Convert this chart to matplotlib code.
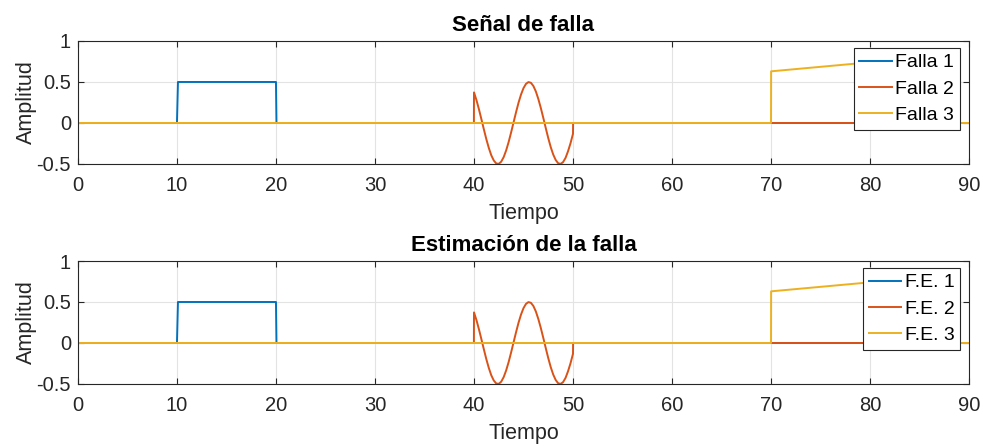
import numpy as np
import matplotlib
matplotlib.use("Agg")
import matplotlib.pyplot as plt

plt.rcParams['font.family'] = ['Liberation Sans', 'DejaVu Sans']

# fault signals (time breakpoints and amplitudes)
t_f1 = [0, 10, 10.1, 20, 20.05, 90]
y_f1 = [0, 0, 0.5, 0.5, 0, 0]

# fault 2: oscillation between t=40 and t=50
t_osc = np.arange(40, 50.01, 0.25)
y_osc = [0.373, 0.279, 0.167, 0.045, -0.079, -0.199, -0.306, -0.395, -0.458,
         -0.494, -0.498, -0.472, -0.416, -0.334, -0.232, -0.115, 0.009, 0.132,
         0.248, 0.347, 0.425, 0.477, 0.499, 0.490, 0.451, 0.384, 0.292, 0.183,
         0.062, -0.063, -0.184, -0.294, -0.384, -0.451, -0.491, -0.499, -0.477,
         -0.425, -0.344, -0.247, -0.131]
t_f2 = [0, 39.99] + list(t_osc) + [50.01, 90]
y_f2 = [0, 0] + y_osc + [0, 0]

t_f3 = [0, 70, 70.01, 80, 80.01, 90]
y_f3 = [0, 0, 0.63, 0.74, 0, 0]

xticks = list(range(0, 91, 10))
yticks = [-0.5, 0, 0.5, 1]

colors = ['#0072BD', '#D95319', '#EDB120']

fig = plt.figure(figsize=(9.83, 4.48), dpi=100)
ax1 = fig.add_axes([0.0793, 0.634, 0.9065, 0.2745])
ax2 = fig.add_axes([0.0793, 0.1429, 0.9065, 0.2745])

panels = [
    (ax1, 'Señal de falla', ['Falla 1', 'Falla 2', 'Falla 3']),
    (ax2, 'Estimación de la falla', ['F.E. 1', 'F.E. 2', 'F.E. 3']),
]

for ax, title, names in panels:
    ax.plot(t_f1, y_f1, color=colors[0], lw=1.4, label=names[0])
    ax.plot(t_f2, y_f2, color=colors[1], lw=1.4, label=names[1])
    ax.plot(t_f3, y_f3, color=colors[2], lw=1.4, label=names[2])
    ax.set_xlim(0, 90)
    ax.set_ylim(-0.5, 1)
    ax.set_xticks(xticks)
    ax.set_yticks(yticks)
    ax.set_yticklabels(['-0.5', '0', '0.5', '1'])
    ax.grid(True, color='#e3e3e3', lw=0.8)
    ax.set_axisbelow(True)
    ax.tick_params(direction='in', top=True, right=True, labelsize=14.5,
                   length=4, color='#262626', labelcolor='#262626')
    ax.tick_params(axis='x', pad=8.5)
    ax.tick_params(axis='y', pad=5)
    for s in ax.spines.values():
        s.set_color('#262626')
        s.set_linewidth(0.8)
    ax.set_xlabel('Tiempo', fontsize=15.5, color='#262626', labelpad=6)
    ax.set_ylabel('Amplitud', fontsize=15.5, color='#262626', labelpad=0)
    ax.set_title(title, fontsize=16, fontweight='bold', pad=7)
    leg = ax.legend(loc='upper right', bbox_to_anchor=(0.99, 0.943),
                    borderaxespad=0, fontsize=14, fancybox=False,
                    framealpha=1, edgecolor='#262626', handlelength=1.65,
                    labelspacing=0.45, borderpad=0.3, handletextpad=0.2)
    leg.get_frame().set_linewidth(0.8)

fig.savefig('out.png', dpi=100)
